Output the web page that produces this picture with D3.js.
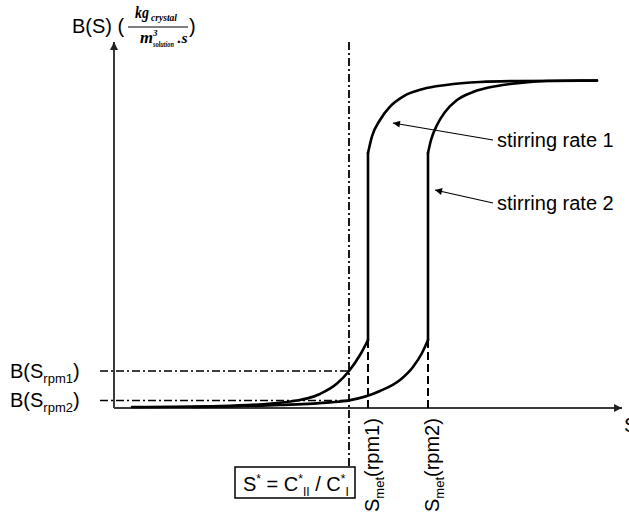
<!DOCTYPE html>
<html lang="en">
  <head>
    <meta charset="UTF-8" />
    <title>B(S) vs S</title>
    <script src="https://d3js.org/d3.v7.min.js"></script>
    <style>
      body { margin: 0; background: #fff; }
      svg { display: block; font-family: Arial, "Liberation Sans", sans-serif; }
    </style>
  </head>
  <body>
    <svg width="629" height="515"></svg>
    <script>
      // curve data (S in arbitrary units, B(S) in arbitrary units)
      const sStar = 11.75;
      const sMet1 = 12.7;
      const sMet2 = 15.7;
      const bMet = 3.4;
      const bRpm1 = 1.85;
      const bRpm2 = 0.38;

      const rpm1Low = [[0.9, 0.05], [5.3, 0.1], [8.65, 0.3], [10.3, 0.7], [11.15, 1.22], [sStar, bRpm1], [12.3, 2.65], [sMet1, bMet]];
      const rpm1High = [[sMet1, 12.75], [12.9, 13.58], [13.3, 14.4], [13.8, 15.07], [14.45, 15.57], [15.45, 15.95], [16.6, 16.15], [18.3, 16.3], [20.15, 16.35], [24.15, 16.37]];
      const rpm2Low = [[3.95, 0.05], [8.3, 0.15], [10.8, 0.28], [sStar, bRpm2], [13.3, 0.85], [14.3, 1.4], [14.95, 2.05], [15.4, 2.75], [sMet2, bMet]];
      const rpm2High = [[sMet2, 12.75], [15.85, 13.4], [16.15, 14.15], [16.55, 14.8], [17.15, 15.4], [17.95, 15.8], [19.15, 16.1], [20.45, 16.27], [21.65, 16.35], [24.15, 16.37]];

      const curveLabels = ["stirring rate 1", "stirring rate 2"];
      // arrow tail / head for each label
      const labelArrows = [
        [[18.95, 13.4], [13.95, 14.25]],
        [[18.95, 10.25], [16.05, 10.9]],
      ];

      const fs = 20;
      const svg = d3.select("svg");
      const x = d3.scaleLinear().domain([0, 25.4]).range([114, 622]);
      const y = d3.scaleLinear().domain([0, 18.3]).range([408, 42]);

      const defs = svg.append("defs");
      defs.append("marker")
        .attr("id", "axisArrow")
        .attr("viewBox", "0 0 10 10")
        .attr("refX", 10).attr("refY", 5)
        .attr("markerUnits", "userSpaceOnUse")
        .attr("markerWidth", 10).attr("markerHeight", 8)
        .attr("orient", "auto")
        .append("path").attr("d", "M0,0 L10,5 L0,10 Z").attr("fill", "#222");
      defs.append("marker")
        .attr("id", "thinArrow")
        .attr("viewBox", "0 0 10 10")
        .attr("refX", 10).attr("refY", 5)
        .attr("markerUnits", "userSpaceOnUse")
        .attr("markerWidth", 9).attr("markerHeight", 7)
        .attr("orient", "auto")
        .append("path").attr("d", "M0,0 L10,5 L0,10 Z").attr("fill", "#000");

      // axes
      svg.append("line")
        .attr("x1", x(0)).attr("y1", y(0)).attr("x2", x(0)).attr("y2", y(18.3))
        .attr("stroke", "#3a3a3a").attr("stroke-width", 2)
        .attr("marker-end", "url(#axisArrow)");
      svg.append("line")
        .attr("x1", x(0)).attr("y1", y(0)).attr("x2", x(25.4)).attr("y2", y(0))
        .attr("stroke", "#3a3a3a").attr("stroke-width", 2)
        .attr("marker-end", "url(#axisArrow)");

      // reference lines
      const dashDot = "8,3,2,3";
      svg.append("line")
        .attr("x1", x(sStar)).attr("y1", y(18.3)).attr("x2", x(sStar)).attr("y2", y(-2.95))
        .attr("stroke", "#000").attr("stroke-width", 1.8).attr("stroke-dasharray", dashDot);
      [bRpm1, bRpm2].forEach((b) => {
        svg.append("line")
          .attr("x1", x(-0.7)).attr("y1", y(b)).attr("x2", x(sStar)).attr("y2", y(b))
          .attr("stroke", "#000").attr("stroke-width", 1.5).attr("stroke-dasharray", dashDot);
      });
      [sMet1, sMet2].forEach((s) => {
        svg.append("line")
          .attr("x1", x(s)).attr("y1", y(bMet)).attr("x2", x(s)).attr("y2", y(0))
          .attr("stroke", "#000").attr("stroke-width", 2).attr("stroke-dasharray", "8,4");
      });

      // curves: lower part, vertical jump, upper part
      const line = d3.line().x((d) => x(d[0])).y((d) => y(d[1])).curve(d3.curveMonotoneX);
      [[rpm1Low, rpm1High], [rpm2Low, rpm2High]].forEach(([lo, hi]) => {
        svg.append("path").attr("d", line(lo));
        svg.append("path").attr("d", line([lo[lo.length - 1], hi[0]]));
        svg.append("path").attr("d", line(hi));
      });
      svg.selectAll("path:not(defs path)")
        .attr("fill", "none").attr("stroke", "#000").attr("stroke-width", 2.6)
        .attr("stroke-linecap", "round").attr("stroke-linejoin", "round");

      // curve labels with arrows
      labelArrows.forEach(([tail, head], i) => {
        svg.append("line")
          .attr("x1", x(tail[0])).attr("y1", y(tail[1]))
          .attr("x2", x(head[0])).attr("y2", y(head[1]))
          .attr("stroke", "#000").attr("stroke-width", 1.2)
          .attr("marker-end", "url(#thinArrow)");
        svg.append("text")
          .attr("x", x(tail[0]) + 4).attr("y", y(tail[1]) + 7)
          .attr("font-size", fs)
          .text(curveLabels[i]);
      });

      // B(S_rpm) labels
      [["rpm1", bRpm1], ["rpm2", bRpm2]].forEach(([sub, b]) => {
        const t = svg.append("text")
          .attr("x", 10).attr("y", y(b) + 7)
          .attr("font-size", fs);
        t.append("tspan").text("B(S");
        t.append("tspan").attr("dy", 5).attr("font-size", 13).text(sub);
        t.append("tspan").attr("dy", -5).text(")");
      });

      // S_met labels (rotated)
      [["rpm1", sMet1], ["rpm2", sMet2]].forEach(([sub, s]) => {
        const t = svg.append("text")
          .attr("transform", `translate(${x(s) + 11},512) rotate(-90)`)
          .attr("font-size", fs);
        t.append("tspan").text("S");
        t.append("tspan").attr("dy", 5).attr("font-size", 13).text("met");
        t.append("tspan").attr("dy", -5).text("(" + sub + ")");
      });

      // S* box
      svg.append("rect")
        .attr("x", 235).attr("y", y(-2.95)).attr("width", 120).attr("height", 31)
        .attr("fill", "#fff").attr("stroke", "#000").attr("stroke-width", 1.5);
      const box = svg.append("text").attr("x", 243).attr("y", 491).attr("font-size", fs);
      box.append("tspan").text("S");
      box.append("tspan").attr("dy", -8).attr("font-size", 12).text("*");
      box.append("tspan").attr("dy", 8).text(" = C");
      box.append("tspan").attr("dy", -8).attr("font-size", 12).text("*");
      box.append("tspan").attr("dy", 13).attr("font-size", 12).text("II");
      box.append("tspan").attr("dy", -5).text(" / C");
      box.append("tspan").attr("dy", -8).attr("font-size", 12).text("*");
      box.append("tspan").attr("dy", 13).attr("font-size", 12).text("I");

      // y-axis title: B(S) (kg_crystal / m3_solution.s)
      svg.append("text").attr("x", 72).attr("y", 33).attr("font-size", fs).text("B(S) (");
      svg.append("text").attr("x", 189).attr("y", 33).attr("font-size", fs).text(")");
      svg.append("line").attr("x1", 128).attr("x2", 188).attr("y1", 27).attr("y2", 27)
        .attr("stroke", "#000").attr("stroke-width", 1);
      const serif = "'Liberation Serif', 'Times New Roman', serif";
      const unit = (tx, ty, size, str, len) => {
        const t = svg.append("text").attr("x", tx).attr("y", ty)
          .attr("font-family", serif).attr("font-style", "italic").attr("font-weight", "bold")
          .attr("font-size", size).text(str);
        if (len) t.attr("textLength", len).attr("lengthAdjust", "spacingAndGlyphs");
        return t;
      };
      unit(135, 18, 17, "kg", 14);
      unit(151, 21, 9.5, "crystal", 26);
      unit(140, 43, 17, "m", 13);
      unit(153, 36, 9, "3");
      unit(153, 47, 9, "solution", 21);
      unit(177.5, 43, 15, ".s", 10);

      // x-axis title (cut off at the edge)
      svg.append("text").attr("x", 624).attr("y", 432).attr("font-size", fs).text("S");
    </script>
  </body>
</html>
